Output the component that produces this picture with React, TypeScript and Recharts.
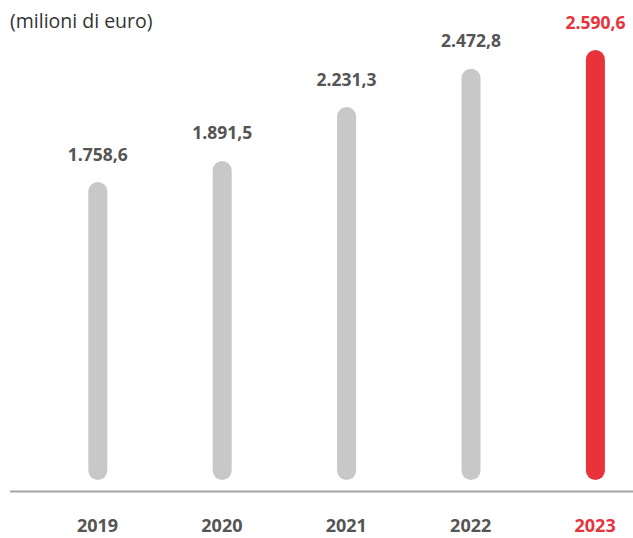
import React from 'react';
import { BarChart, Bar, XAxis, YAxis, LabelList } from 'recharts';

const years = ['2019', '2020', '2021', '2022', '2023'];
const values = [1758.6, 1891.5, 2231.3, 2472.8, 2590.6];
const highlightYear = '2023';

const GRAY = '#c8c8c8';
const RED = '#e8323c';
const TEXT = '#555555';
const FONT = '"Open Sans", sans-serif';

const data = years.map((y, i) => ({ year: y, value: values[i] }));

const fmt = (v: number) => {
  const [int, dec] = v.toFixed(1).split('.');
  return int.replace(/\B(?=(\d{3})+(?!\d))/g, '.') + ',' + dec;
};

const RoundBar = (props: any) => {
  const { x, y, width, height, payload } = props;
  const r = width / 2;
  const fill = payload && payload.year === highlightYear ? RED : GRAY;
  return <rect x={x} y={y - r} width={width} height={height + 2 * r} rx={r} ry={r} fill={fill} />;
};

const ValueLabel = (props: any) => {
  const { x, y, width, value, index } = props;
  const isHi = years[index] === highlightYear;
  return (
    <text
      x={x + width / 2}
      y={y - 31}
      textAnchor="middle"
      fontFamily={FONT}
      fontWeight={700}
      fontSize={17.5}
      fill={isHi ? RED : TEXT}
    >
      {fmt(value)}
    </text>
  );
};

const YearTick = (props: any) => {
  const { x, y, payload } = props;
  const isHi = payload.value === highlightYear;
  return (
    <text
      x={x}
      y={y + 40}
      textAnchor="middle"
      fontFamily={FONT}
      fontWeight={700}
      fontSize={18}
      fill={isHi ? RED : TEXT}
    >
      {payload.value}
    </text>
  );
};

export default function App() {
  return (
    <div style={{ position: 'absolute', left: 0, top: 0, width: 633, height: 538, background: '#fff' }}>
      <BarChart
        width={633}
        height={538}
        data={data}
        margin={{ top: 59.5, right: 0, left: 10, bottom: 16.5 }}
      >
        <text x={10} y={28} fontFamily={FONT} fontSize={19.5} fill="#333">
          (milioni di euro)
        </text>
        <YAxis hide domain={[-132.3, 2590.6]} />
        <XAxis
          dataKey="year"
          height={30}
          padding={{ left: 25.3, right: -24.3 }}
          tickLine={false}
          tickSize={0}
          tickMargin={0}
          axisLine={{ stroke: '#a6a6a6', strokeWidth: 2 }}
          tick={<YearTick />}
          interval={0}
        />
        <Bar dataKey="value" barSize={19} shape={<RoundBar />} isAnimationActive={false}>
          <LabelList dataKey="value" content={<ValueLabel />} />
        </Bar>
      </BarChart>
    </div>
  );
}
